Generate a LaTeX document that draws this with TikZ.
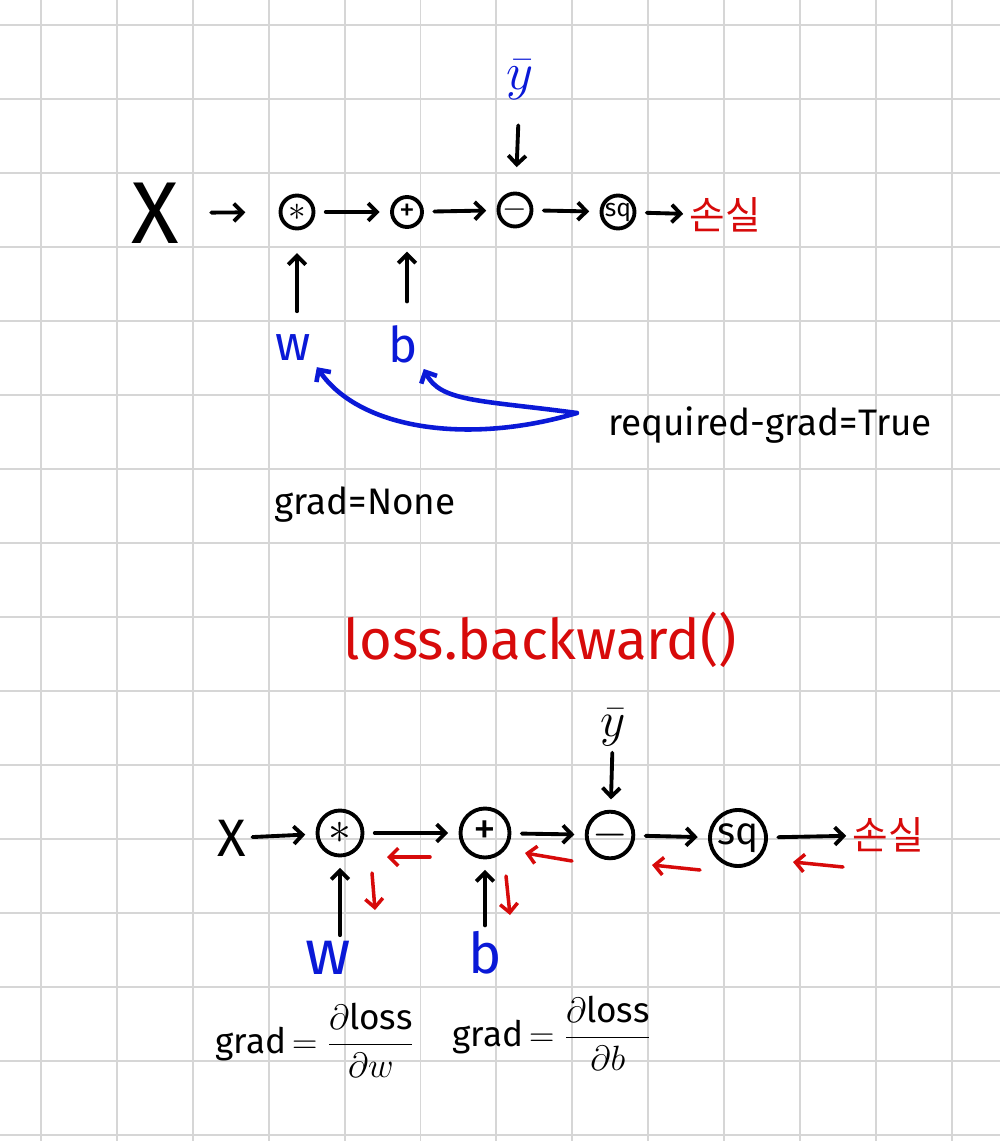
\RequirePackage{fix-cm}
\documentclass[tikz,border=0pt]{standalone}
\usepackage{amsmath}
\usepackage{fontspec}
\setmainfont{Fira Sans}
\newfontfamily\kor{Noto Sans CJK KR}
\usetikzlibrary{arrows.meta,calc}
\definecolor{penBlue}{RGB}{10,25,215}
\definecolor{penRed}{RGB}{215,10,10}
\definecolor{gridGray}{RGB}{214,214,214}
\newcommand{\fs}[1]{\fontsize{#1}{#1}\selectfont}

\begin{document}
\begin{tikzpicture}[x=0.02cm,y=-0.02cm,
    fwd/.style={-{Straight Barb[length=5pt,width=10pt]}, line width=2.2pt, line cap=round},
    back/.style={fwd, penRed, line width=2pt},
    op/.style={circle, draw, line width=2.2pt, inner sep=0pt, outer sep=7pt}]
  \useasboundingbox (0,0) rectangle (1000,1141);
  \foreach \i in {0,...,12}
    \draw[gridGray, line width=1.1pt] ({41+75.9*\i},0) -- ({41+75.9*\i},1141);
  \foreach \j in {0,...,15}
    \draw[gridGray, line width=1.1pt] (0,{25+74*\j}) -- (1000,{25+74*\j});

  \node[font=\fs{50}] (xT) at (155,213) {X};
  \node[op, minimum size=0.66cm, font=\fs{20}] (mulT) at (297,212) {$\ast$};
  \node[op, minimum size=0.6cm, font=\fs{18}] (addT) at (407,212) {+};
  \node[op, minimum size=0.66cm, font=\fs{18}] (subT) at (515,210) {$-$};
  \node[op, minimum size=0.66cm, font=\fs{14}] (sqT) at (618,212) {sq};
  \node[penRed, font=\kor\fs{22}] (lossT) at (725,215) {손실};
  \node[penBlue, font=\fs{30}] (ybarT) at (520,80) {$\bar{y}$};
  \node[penBlue, font=\fs{28}] (wT) at (293,348) {w};
  \node[penBlue, font=\fs{28}] (bT) at (403,344) {b};
  \node[font=\fs{21}] (rgT) at (770,425) {required-grad=True};
  \node[font=\fs{21}] (gnT) at (365,505) {grad=None};
  \node[penRed, font=\fs{32}] (backCall) at (540,640) {loss.backward()};

  \draw[fwd, shorten <=15pt, shorten >=13pt] (xT) -- (mulT);
  \draw[fwd] (mulT) -- (addT);
  \draw[fwd] (addT) -- (subT);
  \draw[fwd] (subT) -- (sqT);
  \draw[fwd] (sqT) -- (lossT);
  \draw[fwd, shorten <=11pt, shorten >=8pt] (ybarT) -- (subT);
  \draw[fwd, shorten <=10pt, shorten >=7pt] (wT.north -| mulT) -- (mulT);
  \draw[fwd, shorten <=10pt, shorten >=7pt] (bT.north -| addT) -- (addT);
  \coordinate (rgStart) at ($(rgT.west)+(-25,-12)$);
  \draw[fwd, penBlue, line width=2.6pt] (rgStart) .. controls (470,445) and (360,430) .. (wT.south east);
  \draw[fwd, penBlue, line width=2.6pt] (rgStart) .. controls (480,400) and (440,402) .. (bT.south east);

  \node[font=\fs{30}] (xB) at (232,838) {X};
  \node[op, minimum size=0.9cm, font=\fs{26}] (mulB) at (340,833) {$\ast$};
  \node[op, minimum size=0.98cm, font=\fs{26}] (addB) at (485,833) {+};
  \node[op, minimum size=0.9cm, font=\fs{26}] (subB) at (610,835) {$-$};
  \node[op, minimum size=1.12cm, font=\fs{22}] (sqB) at (738,838) {sq};
  \node[penRed, font=\kor\fs{22}] (lossB) at (888,835) {손실};
  \node[font=\fs{28}] (ybarB) at (613,728) {$\bar{y}$};
  \node[penBlue, font=\fs{36}] (wB) at (328,958) {w};
  \node[penBlue, font=\fs{32}] (bB) at (485,953) {b};
  \node[font=\fs{20}] (gradW) at (315,1040) {grad\,$=\dfrac{\partial\text{loss}}{\partial w}$};
  \node[font=\fs{20}] (gradB) at (552,1033) {grad\,$=\dfrac{\partial\text{loss}}{\partial b}$};

  \draw[fwd] (xB) -- (mulB);
  \draw[fwd] (mulB) -- (addB);
  \draw[fwd] (addB) -- (subB);
  \draw[fwd] (subB) -- (sqB);
  \draw[fwd] (sqB) -- (lossB);
  \draw[fwd] (ybarB) -- (subB);
  \draw[fwd] (wB.north -| mulB) -- (mulB);
  \draw[fwd] (bB.north -| addB) -- (addB);
  \draw[back] ($(addB.center)+(-55,24)$) -- ($(mulB.center)+(47,24)$);
  \draw[back] ($(subB.center)+(-38,26)$) -- ($(addB.center)+(40,20)$);
  \draw[back] ($(sqB.center)+(-38,32)$) -- ($(subB.center)+(42,30)$);
  \draw[back] ($(lossB.center)+(-45,32)$) -- ($(sqB.center)+(55,24)$);
  \draw[back] ($(mulB.center)+(32,40)$) -- ($(mulB.center)+(35,77)$);
  \draw[back] ($(addB.center)+(21,43)$) -- ($(addB.center)+(25,82)$);
\end{tikzpicture}
\end{document}
